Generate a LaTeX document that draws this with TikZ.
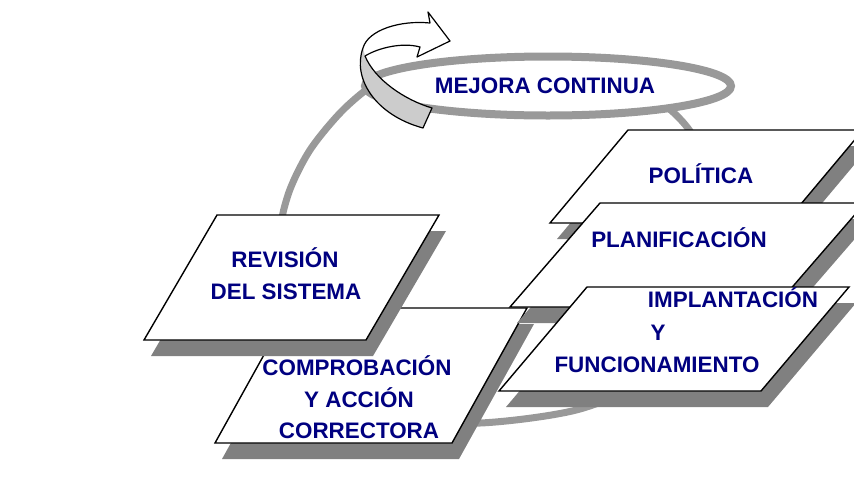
\documentclass[tikz,border=0pt]{standalone}
\usepackage{fontspec}
\setmainfont{Liberation Sans}
\definecolor{azul}{RGB}{0,0,128}
\definecolor{gris anillo}{RGB}{153,153,153}
\definecolor{gris sombra}{RGB}{128,128,128}
\definecolor{gris flecha}{RGB}{204,204,204}

\begin{document}
\begin{tikzpicture}[x=1pt, y=-1pt,
		texto/.style={anchor=base, text=azul, inner sep=0pt, font=\fontsize{22.4}{26}\selectfont\bfseries},
		plano/.style={draw=black, fill=white, line width=1.4pt},
		sombra/.style={fill=gris sombra}]
		\useasboundingbox (0,0) rectangle (854,480);
		\clip (0,0) rectangle (854,480);
		
		%big ring
		\draw[gris anillo, line width=7pt] plot[smooth cycle] coordinates {(281,240) (288,195) (310,150) (345,108) (385,78) (440,64) (510,62) (590,72) (650,95) (687,127) (712,175) (722,240) (708,310) (660,372) (580,409) (480,423) (420,415) (345,375) (300,315)};
		
		%mejora continua
		\filldraw[draw=gris anillo, fill=white, line width=8pt] (548,86) ellipse [x radius=183pt, y radius=29.5pt];
		\node[texto] (mejora) at (545,93) {MEJORA CONTINUA};
		
		%arrow
		\coordinate (cola) at (432,108);
		\coordinate (base) at (423,128);
		\coordinate (borde) at (363,48);
		\coordinate (pliegue) at (365,56);
		\fill[white] (cola) .. controls (405,100) and (375,80) .. (pliegue)
			.. controls (378,48) and (402,42) .. (420,47) -- (417,57) -- (450,41) -- (428,12) -- (430,23)
			.. controls (400,20) and (368,30) .. (borde)
			.. controls (352,78) and (375,115) .. (base) -- cycle;
		\fill[gris flecha] (borde) .. controls (352,78) and (375,115) .. (base) -- (cola)
			.. controls (405,100) and (375,80) .. (pliegue) -- cycle;
		\draw[line width=1.2pt, line join=round] (cola) .. controls (405,100) and (375,80) .. (pliegue)
			.. controls (378,48) and (402,42) .. (420,47) -- (417,57) -- (450,41) -- (428,12) -- (430,23)
			.. controls (400,20) and (368,30) .. (borde)
			.. controls (352,78) and (375,115) .. (base) -- cycle;
		
		%planes with shadow
		\foreach \x/\y/\w/\h/\s in {290/308/237/135/75, 217/215/222/125/73, 628/130/235/93/78, 600/203/265/104/90, 587/287/262/104/88}{
			\fill[sombra] (\x+7,\y+16) -- ++(\w,0) -- ++(-\s,\h) -- ++(-\w,0) -- cycle;
			\filldraw[plano] (\x,\y) -- ++(\w,0) -- ++(-\s,\h) -- ++(-\w,0) -- cycle;
		}
		
		\node[texto] (rev1) at (285,267) {REVISIÓN};
		\node[texto] (rev2) at (286,299) {DEL SISTEMA};
		\node[texto] (comp1) at (357,375) {COMPROBACIÓN};
		\node[texto] (comp2) at (359,407) {Y ACCIÓN};
		\node[texto] (comp3) at (359,438) {CORRECTORA};
		\node[texto] (pol) at (701,183) {POLÍTICA};
		\node[texto] (plan) at (679,247) {PLANIFICACIÓN};
		\node[texto] (imp1) at (733,307) {IMPLANTACIÓN};
		\node[texto] (imp2) at (658,340) {Y};
		\node[texto] (imp3) at (657,372) {FUNCIONAMIENTO};
		\end{tikzpicture}
\end{document}
